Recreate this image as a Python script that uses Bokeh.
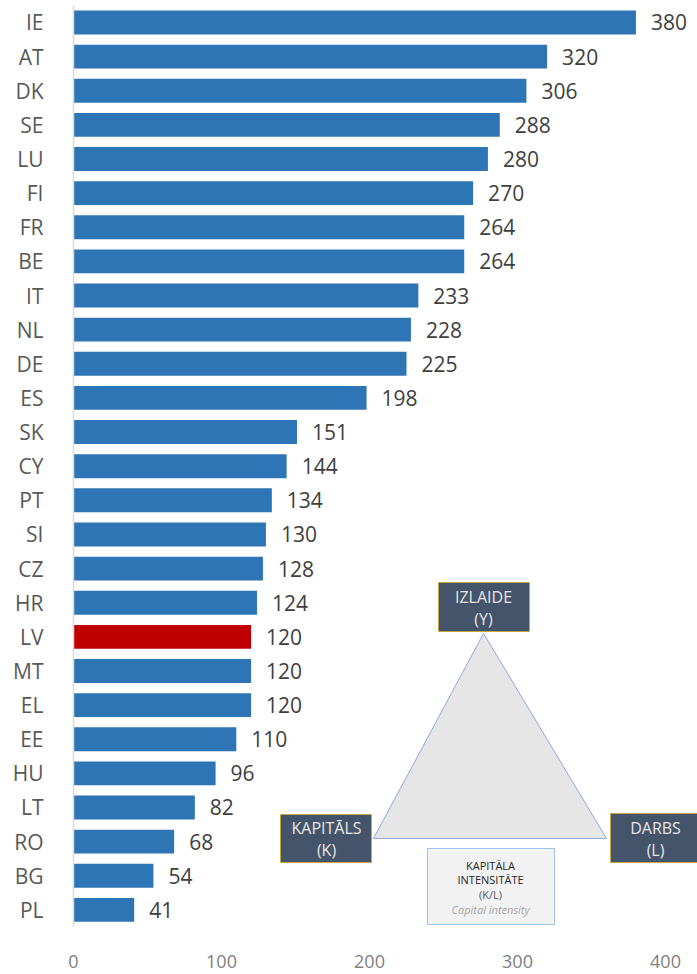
from bokeh.plotting import figure
from bokeh.models import Range1d, FixedTicker, ColumnDataSource, Label, BoxAnnotation
from bokeh.core.properties import value
from bokeh.embed import file_html
from bokeh.resources import INLINE

countries = ["IE", "AT", "DK", "SE", "LU", "FI", "FR", "BE", "IT", "NL", "DE", "ES", "SK", "CY",
             "PT", "SI", "CZ", "HR", "LV", "MT", "EL", "EE", "HU", "LT", "RO", "BG", "PL"]
values = [380, 320, 306, 288, 280, 270, 264, 264, 233, 228, 225, 198, 151, 144,
          134, 130, 128, 124, 120, 120, 120, 110, 96, 82, 68, 54, 41]
highlight = "LV"
x_ticks = [0, 100, 200, 300, 400]

BLUE = "#2E75B6"
RED = "#C00000"
FONT = "Open Sans"

n = len(countries)
pos = [n - 1 - i for i in range(n)]
colors = [RED if c == highlight else BLUE for c in countries]
labels = [str(v) for v in values]

src = ColumnDataSource(dict(y=pos, v=values, c=colors, lab=labels))

p = figure(width=697, height=974, output_backend="svg", toolbar_location=None,
           x_range=Range1d(0, 421.6), y_range=Range1d(-0.487, n - 1 + 0.498),
           min_border_left=73, min_border_right=0, min_border_top=5, min_border_bottom=48)
p.outline_line_color = None
p.xgrid.grid_line_color = None
p.ygrid.grid_line_color = None

p.hbar(y="y", right="v", left=0, height=0.70, fill_color="c", line_color=None, source=src)
p.text(x="v", y="y", text="lab", source=src, x_offset=15, text_baseline="middle",
       text_align="left", text_font=value(FONT), text_font_size="21px", text_color="#404040")

# y axis
p.yaxis.ticker = FixedTicker(ticks=pos)
p.yaxis.major_label_overrides = {pp: c for pp, c in zip(pos, countries)}
p.yaxis.major_tick_line_color = None
p.yaxis.minor_tick_line_color = None
p.yaxis.axis_line_color = "#D9D9D9"
p.yaxis.axis_line_width = 1.5
p.yaxis.major_label_standoff = 24
p.yaxis.major_label_text_font = FONT
p.yaxis.major_label_text_font_size = "21px"
p.yaxis.major_label_text_color = "#595959"

# x axis
p.xaxis.ticker = FixedTicker(ticks=x_ticks)
p.xaxis.axis_line_color = None
p.xaxis.major_tick_line_color = None
p.xaxis.minor_tick_line_color = None
p.xaxis.major_label_standoff = 22
p.xaxis.major_label_text_font = FONT
p.xaxis.major_label_text_font_size = "18px"
p.xaxis.major_label_text_color = "#808080"

# --- decorative diagram (positioned in screen pixels, converted to data space) ---
def dx(px):
    return (px - 73) / 1.48

def dy(py):
    return (n - 1) - (py - 22) / 34.13

# triangle
p.patch([dx(483), dx(373), dx(606)], [dy(633), dy(838), dy(838)],
        fill_color="#E6E6E6", line_color="#8FAADC", line_width=1)

BOXFILL = "#44546A"
BOXLINE = "#C9A640"
for (l, r, t, b) in [(438, 529, 582, 631), (280, 371, 814, 862), (610, 760, 813, 862)]:
    p.add_layout(BoxAnnotation(left=dx(l), right=dx(r), top=dy(t), bottom=dy(b),
                               fill_color=BOXFILL, fill_alpha=1.0,
                               line_color=BOXLINE, line_width=1, line_alpha=1.0))
p.add_layout(BoxAnnotation(left=dx(427), right=dx(554), top=dy(848), bottom=dy(924),
                           fill_color="#F2F2F2", fill_alpha=1.0,
                           line_color="#9DC3E6", line_width=1, line_alpha=1.0))

def lab(px, py, txt, size="16px", color="#E7E6E6", style="normal"):
    p.add_layout(Label(x=dx(px), y=dy(py), text=txt, text_align="center",
                       text_baseline="middle", text_font=FONT, text_font_size=size,
                       text_color=color, text_font_style=style))

lab(483, 597, "IZLAIDE")
lab(483, 619, "(Y)")
lab(326, 828, "KAPITĀLS")
lab(326, 850, "(K)")
lab(655, 828, "DARBS")
lab(655, 850, "(L)")
lab(490, 865, "KAPITĀLA", "11px", "#262626")
lab(490, 879, "INTENSITĀTE", "11px", "#262626")
lab(490, 894, "(K/L)", "11px", "#595959")
lab(490, 909, "Capital intensity", "11px", "#A6A6A6", "italic")

open("out.html", "w").write(file_html(p, INLINE))
